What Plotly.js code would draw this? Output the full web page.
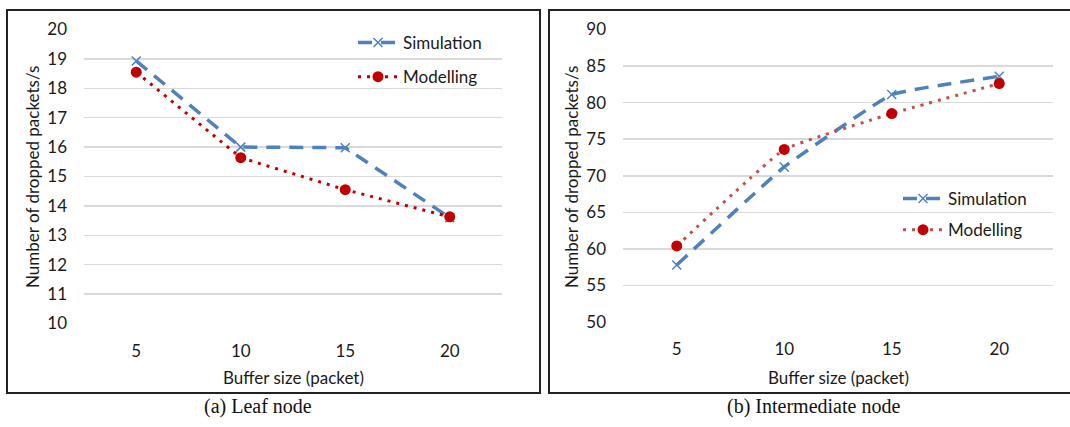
<!DOCTYPE html>
<html><head><meta charset="utf-8">
<script src="https://cdn.plot.ly/plotly-3.0.1.min.js"></script>
<style>html,body{margin:0;padding:0;background:#fff}#chart{width:1070px;height:427px}</style>
</head><body><div id="chart"></div>
<script>
const bufferSizes = ["5", "10", "15", "20"];
const leafSimulation = [18.93, 16.0, 15.98, 13.6];
const leafModelling = [18.55, 15.64, 14.55, 13.63];
const interSimulation = [57.8, 71.2, 81.1, 83.6];
const interModelling = [60.4, 73.6, 78.5, 82.6];
const leafTicks = [10, 11, 12, 13, 14, 15, 16, 17, 18, 19, 20];
const interTicks = [50, 55, 60, 65, 70, 75, 80, 85, 90];

const W = 1070, H = 427;
const px = x => x / W, py = y => 1 - y / H;
const FONT = "Lato, 'Open Sans', sans-serif";
const SERIF = "'Liberation Serif', 'Times New Roman', serif";
const TXT = "#1a1a1a";
const BLUE = "#4F81BD", RED = "#C00000", RED2 = "#C0504D";

const traces = [
  {x: bufferSizes, y: leafSimulation, name: "Simulation", xaxis: "x", yaxis: "y", mode: "lines+markers",
   line: {color: BLUE, width: 3.5, dash: "14px,9px"}, marker: {symbol: "x-thin-open", size: 9, color: BLUE, line: {color: BLUE, width: 1.5}},
   legend: "legend", legendgroup: "a1"},
  {x: bufferSizes, y: leafModelling, name: "Modelling", xaxis: "x", yaxis: "y", mode: "lines+markers",
   line: {color: RED, width: 3, dash: "3px,6px"}, marker: {symbol: "circle", size: 11, color: RED},
   legend: "legend", legendgroup: "a2"},
  {x: bufferSizes, y: interSimulation, name: "Simulation", xaxis: "x2", yaxis: "y2", mode: "lines+markers",
   line: {color: BLUE, width: 3.5, dash: "14px,9px", shape: "spline", smoothing: 0.3}, marker: {symbol: "x-thin-open", size: 9, color: BLUE, line: {color: BLUE, width: 1.5}},
   legend: "legend2", legendgroup: "b1"},
  {x: bufferSizes, y: interModelling, name: "Modelling", xaxis: "x2", yaxis: "y2", mode: "lines+markers",
   line: {color: RED2, width: 3, dash: "3px,6px", shape: "spline", smoothing: 0.3}, marker: {symbol: "circle", size: 11, color: RED},
   legend: "legend2", legendgroup: "b2"}
];

const xbase = {type: "category", range: [-0.5, 3.5], showgrid: false, zeroline: false, showline: false,
  ticks: "", ticklabelstandoff: 15, tickfont: {family: FONT, size: 17, color: TXT}, fixedrange: true};
const ybase = {showgrid: true, gridcolor: "#D9D9D9", gridwidth: 1.5, zeroline: false, showline: false, ticks: "",
  ticklabelstandoff: 16, tickfont: {family: FONT, size: 17, color: TXT}, fixedrange: true};

const legendBase = {xanchor: "left", yanchor: "top", bgcolor: "rgba(0,0,0,0)", borderwidth: 0,
  font: {family: FONT, size: 17, color: TXT}, itemwidth: 40, xref: "paper", yref: "paper"};

const axTitle = (text, x, y, angle) => ({text: text, textangle: angle, xref: "paper", yref: "paper", x: px(x), y: py(y),
  xanchor: "center", yanchor: "middle", showarrow: false, font: {family: FONT, size: 17, color: TXT}});
const caption = (text, x, y) => ({text: text, xref: "paper", yref: "paper", x: px(x), y: py(y),
  xanchor: "center", yanchor: "middle", showarrow: false, font: {family: SERIF, size: 20, color: "#111"}});

const layout = {
  width: W, height: H, margin: {l: 0, r: 0, t: 0, b: 0}, paper_bgcolor: "#fff", plot_bgcolor: "#fff",
  showlegend: true,
  xaxis: Object.assign({}, xbase, {domain: [px(84), px(502)], anchor: "y"}),
  yaxis: Object.assign({}, ybase, {domain: [py(323.5), py(29.5)], range: [10, 20], tickvals: leafTicks, anchor: "x"}),
  xaxis2: Object.assign({}, xbase, {domain: [px(623), px(1053)], anchor: "y2"}),
  yaxis2: Object.assign({}, ybase, {domain: [py(322), py(29.5)], range: [50, 90], tickvals: interTicks, anchor: "x2"}),
  legend: Object.assign({}, legendBase, {x: px(353), y: py(25), tracegroupgap: 9}),
  legend2: Object.assign({}, legendBase, {x: px(898), y: py(181), tracegroupgap: 6}),
  shapes: [
    {type: "rect", xref: "paper", yref: "paper", x0: px(7), x1: px(540), y0: py(393), y1: py(10), line: {color: "#222", width: 2}},
    {type: "rect", xref: "paper", yref: "paper", x0: px(549), x1: px(1071), y0: py(393), y1: py(10), line: {color: "#222", width: 2}}
  ],
  annotations: [
    axTitle("Number of dropped packets/s", 32, 177, -90),
    axTitle("Buffer size (packet)", 293, 377, 0),
    caption("(a) Leaf node", 258, 406),
    axTitle("Number of dropped packets/s", 571, 177, -90),
    axTitle("Buffer size (packet)", 838, 377, 0),
    caption("(b) Intermediate node", 813, 406)
  ]
};

Plotly.newPlot("chart", traces, layout, {staticPlot: true, displayModeBar: false});
</script></body></html>
